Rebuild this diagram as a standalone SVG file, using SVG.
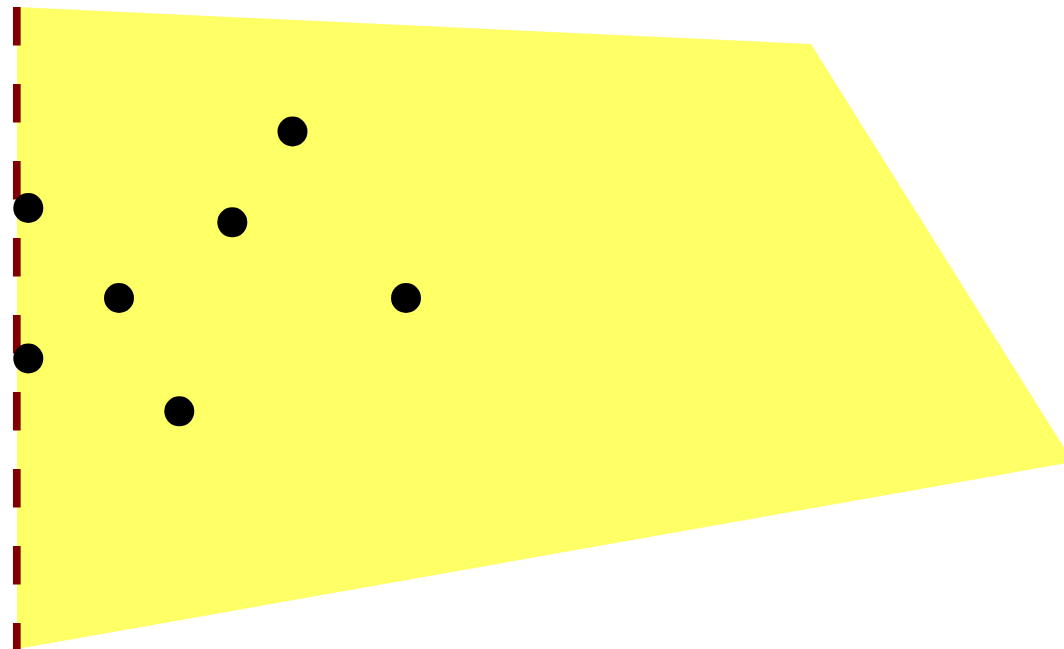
<svg xmlns="http://www.w3.org/2000/svg" width="1064" height="649" viewBox="0 0 1064 649">
<style>
.region{fill:#ffff66;stroke:none}
.boundary{stroke:#800000;stroke-width:7.7;stroke-dasharray:38.5 38.5;fill:none}
.pt{fill:#000}
</style>
<rect width="1064" height="649" fill="#fff"/>
<g id="region"><polygon class="region" points="17,7 811,44 1073,462 17,649"/></g>
<g id="connectors"><line class="boundary" x1="16.8" y1="7" x2="16.8" y2="660"/></g>
<g id="p1"><circle class="pt" cx="292.5" cy="131.5" r="15"/></g>
<g id="p2"><circle class="pt" cx="232.3" cy="222.3" r="15"/></g>
<g id="p3"><circle class="pt" cx="119" cy="298" r="15"/></g>
<g id="p4"><circle class="pt" cx="406" cy="298" r="15"/></g>
<g id="p5"><circle class="pt" cx="179.3" cy="411.3" r="15"/></g>
<g id="p6"><circle class="pt" cx="28.3" cy="208" r="15"/></g>
<g id="p7"><circle class="pt" cx="28.3" cy="358.5" r="15"/></g>
</svg>
